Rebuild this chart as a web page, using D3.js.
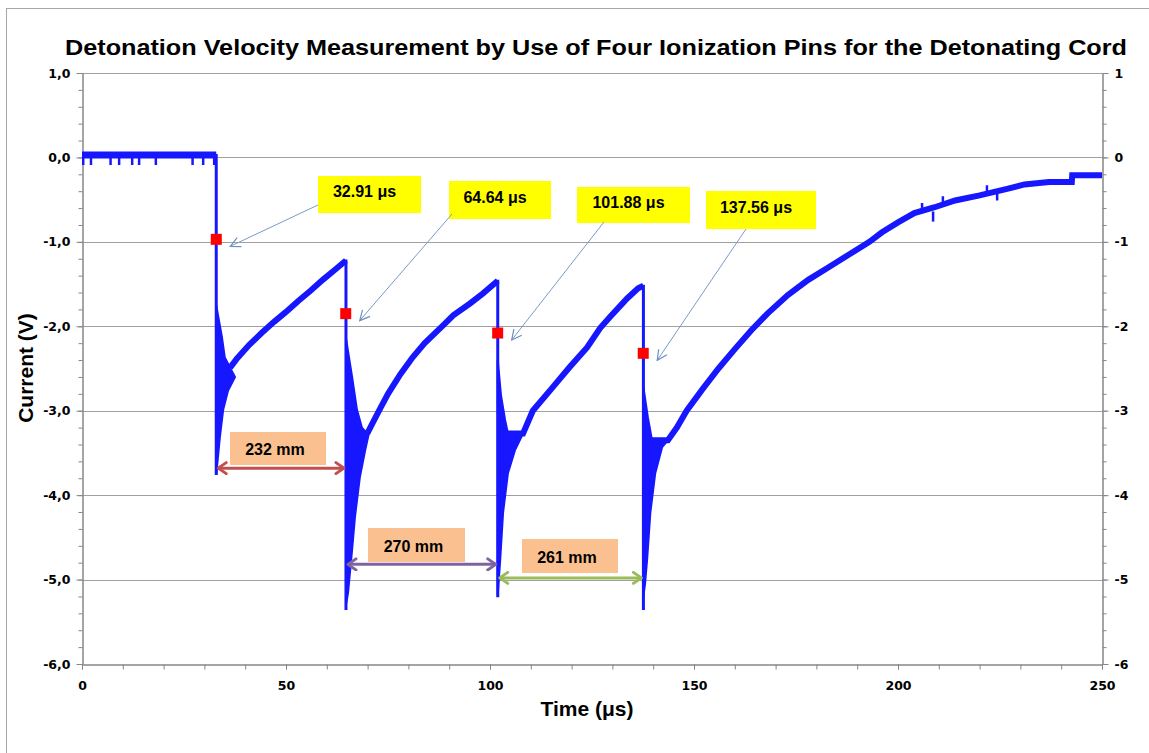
<!DOCTYPE html>
<html>
<head>
<meta charset="utf-8">
<script src="https://cdn.jsdelivr.net/npm/d3@7"></script>
<style>
  html,body{margin:0;padding:0;background:#fff;}
  svg{display:block;}
</style>
</head>
<body>
<svg id="chart" width="1149" height="753"></svg>
<script>
// ---------------- DATA ----------------
const titleText = "Detonation Velocity Measurement by Use of Four Ionization Pins for the Detonating Cord";
const xTickLabels = ["0","50","100","150","200","250"];
const xTickValues = [0,50,100,150,200,250];
const yTickValues = [-6,-5,-4,-3,-2,-1,0,1];
const yLeftLabels = ["-6,0","-5,0","-4,0","-3,0","-2,0","-1,0","0,0","1,0"];
const yRightLabels = ["-6","-5","-4","-3","-2","-1","0","1"];

// pre-trigger baseline [t, v]
const baseline = [[0,0.03],[32.9,0.03]];
// small negative glitches on the baseline [t, vTop, vBottom]
const baselineSpikes = [[0.3,0.03,-0.09],[2.2,0.03,-0.09],[7.0,0.03,-0.09],[9.1,0.03,-0.09],[12.3,0.03,-0.09],[14.0,0.03,-0.09],[18.1,0.03,-0.09],[27.1,0.03,-0.09],[29.7,0.03,-0.09],[32.4,0.03,-0.09]];

// the four ionization-pin drops [t, vTop, vBottom]
const drops = [[32.9,0.03,-3.76],[64.7,-1.22,-5.36],[101.9,-1.46,-5.21],[137.6,-1.52,-5.36]];

// ringing envelopes after each drop [t, v]
const ringUpper1 = [[32.9,-1.75],[34.3,-2.13],[35.0,-2.37],[36.3,-2.49]];
const ringLower1 = [[32.9,-3.76],[33.8,-3.31],[34.6,-2.99],[35.8,-2.76],[37.5,-2.60]];
const ringUpper2 = [[64.7,-2.14],[66.2,-2.60],[67.4,-2.99],[68.6,-3.20],[69.9,-3.27]];
const ringLower2 = [[64.7,-5.30],[65.2,-5.16],[66.2,-4.65],[66.9,-4.26],[68.1,-3.79],[69.4,-3.47],[70.4,-3.25]];
const ringUpper3 = [[101.9,-2.40],[102.7,-2.82],[103.7,-3.11],[104.4,-3.27]];
const ringLower3 = [[101.9,-5.18],[102.5,-4.77],[103.2,-4.21],[104.4,-3.74],[106.1,-3.47],[108.1,-3.27]];
const ringUpper4 = [[137.6,-2.72],[138.7,-3.08],[139.7,-3.35]];
const ringLower4 = [[137.6,-5.20],[138.0,-5.05],[138.5,-4.77],[139.3,-4.21],[140.5,-3.74],[142.2,-3.43],[143.6,-3.35]];

// recovery curves after each pulse [t, v]
const recovery1 = [[36.3,-2.49],[38,-2.38],[41,-2.22],[44,-2.08],[47,-1.95],[50,-1.83],[53,-1.70],[56,-1.58],[59,-1.45],[62,-1.33],[64.7,-1.22]];
const recovery2 = [[69.9,-3.27],[71.5,-3.12],[73,-2.98],[75,-2.80],[78,-2.57],[81,-2.37],[84,-2.20],[88.7,-1.98],[91,-1.87],[95.1,-1.73],[98.3,-1.61],[101.9,-1.46]];
const recovery3 = [[104.4,-3.27],[108.1,-3.27],[110.5,-3.00],[115.4,-2.72],[119.6,-2.48],[123.8,-2.25],[127,-2.02],[129.4,-1.89],[133.6,-1.67],[136.3,-1.55],[137.6,-1.52]];
const recovery4 = [[139.7,-3.35],[143.6,-3.35],[145.8,-3.20],[148.2,-3.00],[152,-2.75],[156,-2.50],[160,-2.27],[164,-2.05],[168,-1.85],[173,-1.63],[178,-1.45],[183,-1.30],[188,-1.15],[193,-1.00],[196,-0.89],[200,-0.77],[204,-0.66],[209,-0.59],[214,-0.51],[220,-0.45],[227,-0.37],[231,-0.32],[237,-0.29],[242.6,-0.29],[242.7,-0.21],[250,-0.21]];
// small glitches in the tail [t, vTop, vBottom]
const tailSpikes = [[205.9,-0.54,-0.66],[208.6,-0.64,-0.76],[211.0,-0.46,-0.56],[221.8,-0.33,-0.44],[224.3,-0.39,-0.51]];

// pin arrival markers
const markerTimes = [32.91,64.64,101.88,137.56];
const markerValues = [-0.97,-1.85,-2.08,-2.32];
const markerLabels = ["32.91 μs","64.64 μs","101.88 μs","137.56 μs"];

// distances between pins
const distLabels = ["232 mm","270 mm","261 mm"];
const distFrom = [32.9,64.7,101.9];
const distTo = [64.7,101.9,137.6];
const distLevel = [-3.68,-4.82,-4.98];

// ---------------- LAYOUT ----------------
const plot = {left:82, right:1102, top:73, bottom:664};
const yellowBoxes = [ {x:318,y:176,w:103,h:37}, {x:449,y:181,w:102,h:38}, {x:577,y:187,w:113,h:36}, {x:706,y:191,w:110,h:38} ];
const calloutStart = [[318,205],[452,214],[604,222],[746,229]];
const orangeBoxes = [ {x:230,y:432,w:96,h:33}, {x:368,y:528,w:97,h:34}, {x:522,y:539,w:96,h:34} ];
const distColors = ["#c0504d","#8064a2","#9bbb59"];
const blue = "#1616ff";

const svg = d3.select("#chart");
const x = d3.scaleLinear().domain([0,250]).range([plot.left, plot.right]);
const y = d3.scaleLinear().domain([-6,1]).range([plot.bottom, plot.top]);

// outer chart border
svg.append("rect").attr("x",6.5).attr("y",8.5).attr("width",1170).attr("height",780)
  .attr("fill","none").attr("stroke","#a6a6a6").attr("stroke-width",1);

// title
svg.append("text").attr("x",596).attr("y",55).attr("text-anchor","middle")
  .attr("font-family","Liberation Sans, Arial, sans-serif").attr("font-weight","bold")
  .attr("font-size",22).attr("textLength",1062).attr("lengthAdjust","spacingAndGlyphs")
  .attr("fill","#000").text(titleText);

// gridlines
svg.append("g").selectAll("line").data(yTickValues.filter(v=>v>-6)).join("line")
  .attr("x1",plot.left).attr("x2",plot.right)
  .attr("y1",d=>Math.round(y(d))+0.5).attr("y2",d=>Math.round(y(d))+0.5)
  .attr("stroke","#a0a0a0").attr("stroke-width",1);

// axes
const axisColor = "#868686";
function styleAxis(g){
  g.selectAll(".domain").attr("stroke",axisColor);
  g.selectAll(".tick line").attr("stroke",axisColor);
  g.selectAll("text").attr("font-family","DejaVu Sans, Verdana, sans-serif")
   .attr("font-weight","bold").attr("font-size",12.5).attr("fill","#000");
}
const minorY = d3.range(0,36).map(i=>-6+i*0.2);
const minorX = d3.range(0,26).map(i=>i*10);

svg.append("g").attr("transform",`translate(${plot.left+0.5},0)`)
  .call(d3.axisLeft(y).tickValues(minorY).tickSize(4).tickFormat("").tickSizeOuter(0)).call(styleAxis);
svg.append("g").attr("transform",`translate(${plot.left+0.5},0)`)
  .call(d3.axisLeft(y).tickValues(yTickValues).tickSize(6).tickPadding(6).tickSizeOuter(0)
    .tickFormat((d,i)=>yLeftLabels[i])).call(styleAxis);

svg.append("g").attr("transform",`translate(${plot.right+0.5},0)`)
  .call(d3.axisRight(y).tickValues(minorY).tickSize(4).tickFormat("").tickSizeOuter(0)).call(styleAxis);
svg.append("g").attr("transform",`translate(${plot.right+0.5},0)`)
  .call(d3.axisRight(y).tickValues(yTickValues).tickSize(6).tickPadding(6).tickSizeOuter(0)
    .tickFormat((d,i)=>yRightLabels[i])).call(styleAxis);

svg.append("g").attr("transform",`translate(0,${plot.bottom+0.5})`)
  .call(d3.axisBottom(x).tickValues(minorX).tickSize(5).tickFormat("").tickSizeOuter(0)).call(styleAxis);
svg.append("g").attr("transform",`translate(0,${plot.bottom+0.5})`)
  .call(d3.axisBottom(x).tickValues(xTickValues).tickSize(5).tickPadding(12).tickSizeOuter(0)
    .tickFormat((d,i)=>xTickLabels[i])).call(styleAxis);

// axis titles
svg.append("text").attr("transform","translate(33,368) rotate(-90)").attr("text-anchor","middle")
  .attr("font-family","Liberation Sans, Arial, sans-serif").attr("font-weight","bold").attr("font-size",21)
  .text("Current (V)");
svg.append("text").attr("x",587).attr("y",716).attr("text-anchor","middle")
  .attr("font-family","Liberation Sans, Arial, sans-serif").attr("font-weight","bold").attr("font-size",21)
  .text("Time (μs)");

// ---------------- SIGNAL ----------------
const sig = svg.append("g");
const lineGen = d3.line().x(d=>x(d[0])).y(d=>y(d[1]));
const smooth = d3.line().x(d=>x(d[0])).y(d=>y(d[1])).curveMonotoneX ? d3.line().x(d=>x(d[0])).y(d=>y(d[1])).curve(d3.curveMonotoneX) : lineGen;

// baseline
sig.append("path").attr("d",lineGen(baseline)).attr("fill","none").attr("stroke",blue).attr("stroke-width",7);
sig.selectAll(".bspike").data(baselineSpikes.concat(tailSpikes)).join("line").attr("class","bspike")
  .attr("x1",d=>x(d[0])).attr("x2",d=>x(d[0])).attr("y1",d=>y(d[1])).attr("y2",d=>y(d[2]))
  .attr("stroke",blue).attr("stroke-width",2.5);

// ringing areas
const rings = [[ringUpper1,ringLower1],[ringUpper2,ringLower2],[ringUpper3,ringLower3],[ringUpper4,ringLower4]];
rings.forEach(([u,l])=>{
  const poly = u.concat(l.slice().reverse());
  sig.append("path").attr("d",lineGen(poly)+"Z").attr("fill",blue).attr("stroke",blue).attr("stroke-width",2);
});

// recoveries
[recovery1,recovery2,recovery3,recovery4].forEach(r=>{
  sig.append("path").attr("d",smooth(r)).attr("fill","none").attr("stroke",blue)
    .attr("stroke-width",6).attr("stroke-linejoin","miter");
});

// drops
sig.selectAll(".drop").data(drops).join("line").attr("class","drop")
  .attr("x1",d=>x(d[0])).attr("x2",d=>x(d[0])).attr("y1",d=>y(d[1])-1).attr("y2",d=>y(d[2]))
  .attr("stroke",blue).attr("stroke-width",3);

// ---------------- ANNOTATIONS ----------------
const defs = svg.append("defs");
defs.append("marker").attr("id","callhead").attr("viewBox","0 0 12 12").attr("refX",11).attr("refY",6)
  .attr("markerWidth",12).attr("markerHeight",12).attr("markerUnits","userSpaceOnUse").attr("orient","auto")
  .append("path").attr("d","M1,1 L11,6 L1,11").attr("fill","none").attr("stroke","#6f8fbf").attr("stroke-width",1.2);
distColors.forEach((c,i)=>{
  defs.append("marker").attr("id","dh"+i).attr("viewBox","0 0 12 14").attr("refX",10).attr("refY",7)
    .attr("markerWidth",12).attr("markerHeight",14).attr("markerUnits","userSpaceOnUse").attr("orient","auto-start-reverse")
    .append("path").attr("d","M2,1.5 L10,7 L2,12.5").attr("fill","none").attr("stroke",c).attr("stroke-width",3)
    .attr("stroke-linecap","round").attr("stroke-linejoin","round");
});

// markers
svg.append("g").selectAll("rect").data(markerTimes).join("rect")
  .attr("x",(d)=>x(d)-5.5).attr("y",(d,i)=>y(markerValues[i])-5.5).attr("width",11).attr("height",11)
  .attr("fill","#ff0000");

// yellow label boxes + callouts
const ann = svg.append("g");
markerLabels.forEach((lab,i)=>{
  const b = yellowBoxes[i];
  ann.append("rect").attr("x",b.x).attr("y",b.y).attr("width",b.w).attr("height",b.h).attr("fill","#ffff00");
  ann.append("text").attr("x",b.x+b.w/2-5).attr("y",b.y+b.h/2+1).attr("dy","0.1em")
    .attr("text-anchor","middle").attr("font-family","Liberation Sans, Arial, sans-serif")
    .attr("font-weight","bold").attr("font-size",16).text(lab);
  const s = calloutStart[i];
  ann.append("line").attr("x1",s[0]).attr("y1",s[1])
    .attr("x2",x(markerTimes[i])+14).attr("y2",y(markerValues[i])+7)
    .attr("stroke","#7a9ac8").attr("stroke-width",1).attr("marker-end","url(#callhead)");
});

// distance boxes + double arrows
distLabels.forEach((lab,i)=>{
  const b = orangeBoxes[i];
  ann.append("rect").attr("x",b.x).attr("y",b.y).attr("width",b.w).attr("height",b.h).attr("fill","#fac090");
  ann.append("text").attr("x",b.x+b.w/2-3).attr("y",b.y+b.h/2+1).attr("dy","0.35em")
    .attr("text-anchor","middle").attr("font-family","Liberation Sans, Arial, sans-serif")
    .attr("font-weight","bold").attr("font-size",16).text(lab);
  ann.append("line").attr("x1",x(distFrom[i])+2).attr("x2",x(distTo[i])-2)
    .attr("y1",y(distLevel[i])).attr("y2",y(distLevel[i]))
    .attr("stroke",distColors[i]).attr("stroke-width",3)
    .attr("marker-start",`url(#dh${i})`).attr("marker-end",`url(#dh${i})`);
});
</script>
</body>
</html>
